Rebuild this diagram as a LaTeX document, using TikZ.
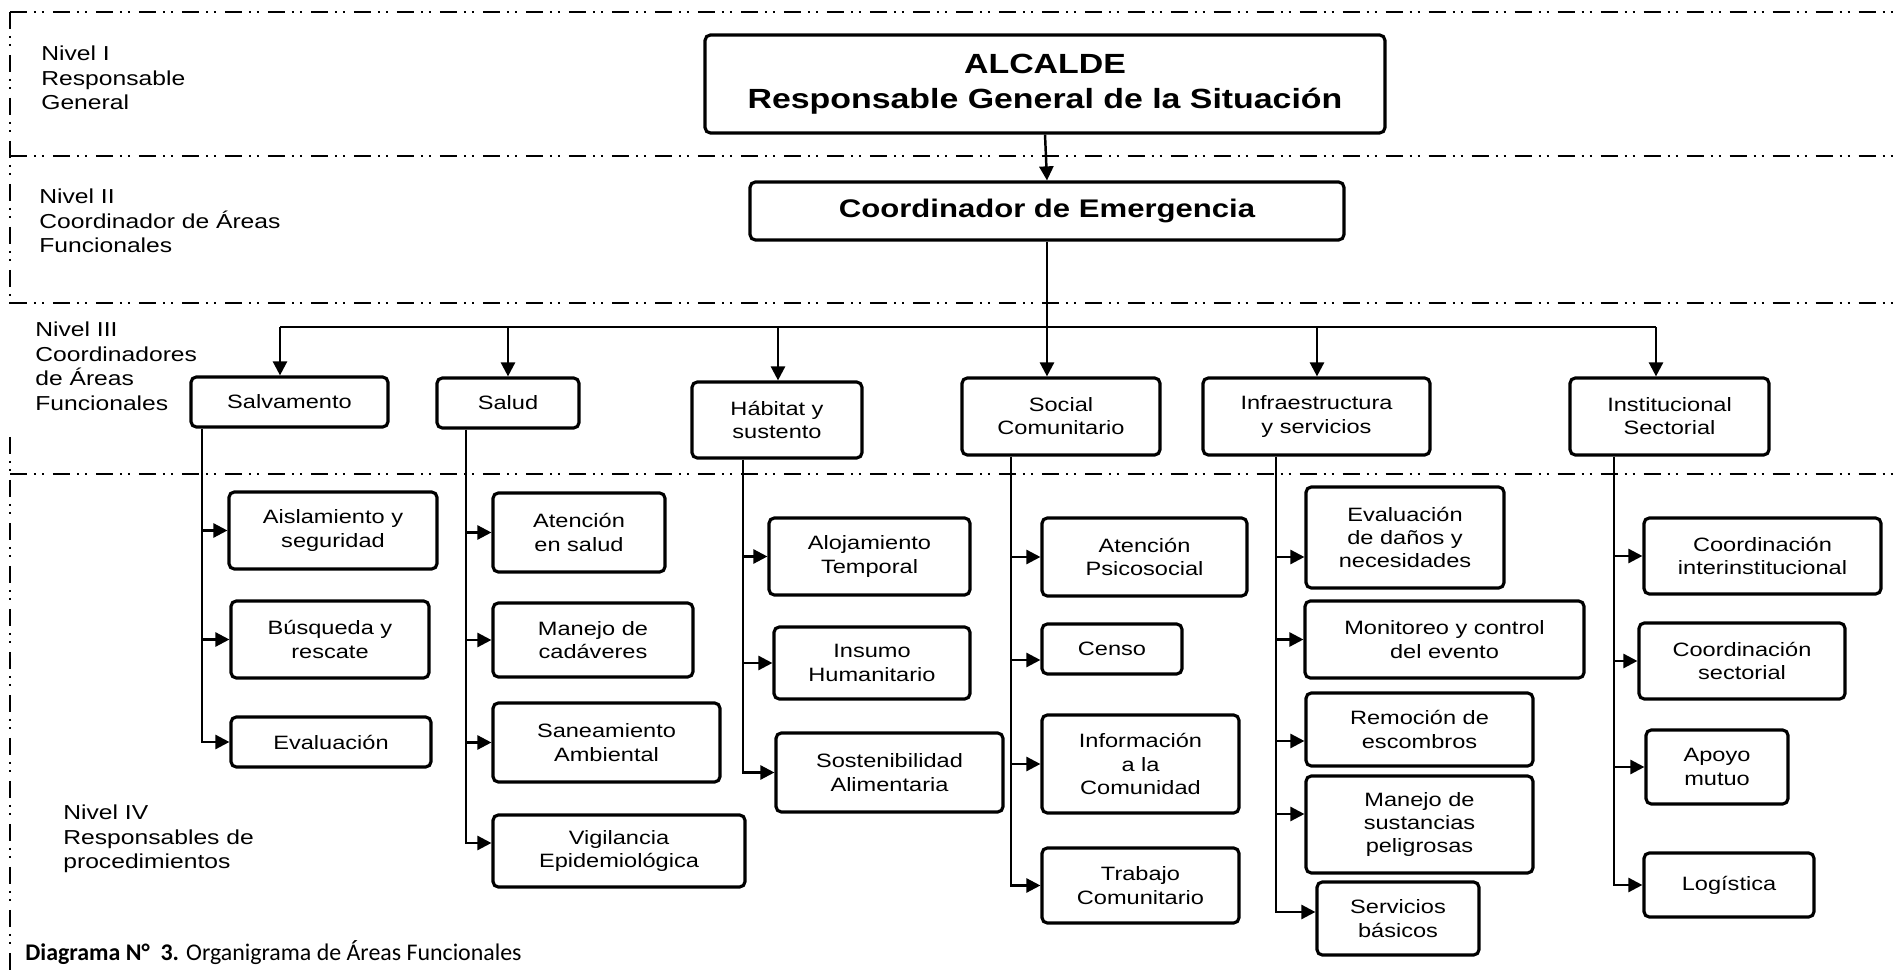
\documentclass[tikz,border=0pt]{standalone}
\usepackage{fontspec}
\setmainfont{Liberation Sans}[FakeStretch=1.22]
\newfontfamily\capfont{Carlito}
\usepackage{tikz}
\usetikzlibrary{arrows.meta,positioning}
\tikzstyle{arrow} = [line width=1.4pt,-{Triangle[length=8pt,width=8pt]}]
\tikzstyle{link} = [line width=1.4pt]

\begin{document}
\begin{tikzpicture}[x=0.02cm, y=-0.02cm,
    every node/.style={inner sep=1pt}]

    \tikzstyle{areabox}=[draw, rounded corners=3pt, line width=1.8pt, align=center, font=\fontsize{11}{13.2}\selectfont]
    \tikzstyle{bigbox}=[areabox, font=\bfseries\fontsize{15.8}{19.8}\selectfont]
    \tikzstyle{levellabel}=[anchor=north west, inner sep=0pt, align=left, font=\fontsize{11.5}{13.9}\selectfont]
    \tikzstyle{levelline}=[line width=1.2pt, dash pattern=on 0.34cm off 0.14cm on 0.04cm off 0.12cm on 0.04cm off 0.18cm]

    \fill[white] (0,0) rectangle (1894,972);
    \useasboundingbox (0,0) rectangle (1894,972);

    % level separators
    \draw[levelline] (10,12) -- (1894,12);
    \draw[levelline] (10,156) -- (1894,156);
    \draw[levelline] (10,303) -- (1894,303);
    \draw[levelline] (10,474) -- (1894,474);
    \draw[levelline] (10,12) -- (10,305);
    \draw[levelline] (10,437) -- (10,972);

    \node[levellabel] (n1) at (41,46) {Nivel I\\Responsable\\General};
    \node[levellabel] (n2) at (39,189) {Nivel II\\Coordinador de Áreas\\Funcionales};
    \node[levellabel] (n3) at (35,322) {Nivel III\\Coordinadores\\de Áreas\\Funcionales};
    \node[levellabel] (n4) at (63,805) {Nivel IV\\Responsables de\\procedimientos};

    % levels I and II
    \node[bigbox, minimum width=13.6cm, minimum height=1.96cm] (alc) at (1045,84) {ALCALDE\\Responsable General de la Situación};
    \node[bigbox, minimum width=11.88cm, minimum height=1.16cm, font=\bfseries\fontsize{14.5}{17}\selectfont] (coord) at (1047,211) {Coordinador de Emergencia};

    % level III
    \node[areabox, minimum width=3.94cm, minimum height=1.0cm] (salv) at (289.5,402) {Salvamento};
    \node[areabox, minimum width=2.84cm, minimum height=1.0cm] (salud) at (508,403) {Salud};
    \node[areabox, minimum width=3.4cm, minimum height=1.52cm] (habi) at (777,420) {Hábitat y\\sustento};
    \node[areabox, minimum width=3.96cm, minimum height=1.54cm] (soci) at (1061,416.5) {Social\\Comunitario};
    \node[areabox, minimum width=4.54cm, minimum height=1.54cm] (infra) at (1316.5,416.5) {Infraestructura\\y servicios};
    \node[areabox, minimum width=3.98cm, minimum height=1.54cm] (inst) at (1669.5,416.5) {Institucional\\Sectorial};

    % level IV
    \node[areabox, minimum width=4.16cm, minimum height=1.54cm] (aisl) at (333,530.5) {Aislamiento y\\seguridad};
    \node[areabox, minimum width=3.96cm, minimum height=1.54cm] (busq) at (330,639.5) {Búsqueda y\\rescate};
    \node[areabox, minimum width=4.0cm, minimum height=1.0cm] (evalu) at (331,742) {Evaluación};

    \node[areabox, minimum width=3.44cm, minimum height=1.58cm] (aten) at (579,532.5) {Atención\\en salud};
    \node[areabox, minimum width=4.0cm, minimum height=1.48cm] (cada) at (593,640) {Manejo de\\cadáveres};
    \node[areabox, minimum width=4.54cm, minimum height=1.58cm] (sane) at (606.5,742.5) {Saneamiento\\Ambiental};
    \node[areabox, minimum width=5.04cm, minimum height=1.44cm] (vigi) at (619,851) {Vigilancia\\Epidemiológica};

    \node[areabox, minimum width=4.02cm, minimum height=1.54cm] (aloj) at (869.5,556.5) {Alojamiento\\Temporal};
    \node[areabox, minimum width=3.92cm, minimum height=1.44cm] (insu) at (872,663) {Insumo\\Humanitario};
    \node[areabox, minimum width=4.54cm, minimum height=1.58cm] (sost) at (889.5,772.5) {Sostenibilidad\\Alimentaria};

    \node[areabox, minimum width=4.1cm, minimum height=1.56cm] (psic) at (1144.5,557) {Atención\\Psicosocial};
    \node[areabox, minimum width=2.8cm, minimum height=1.0cm] (censo) at (1112,649) {Censo};
    \node[areabox, minimum width=3.94cm, minimum height=1.96cm] (info) at (1140.5,764) {Información\\a la\\Comunidad};
    \node[areabox, minimum width=3.94cm, minimum height=1.5cm] (trab) at (1140.5,885.5) {Trabajo\\Comunitario};

    \node[areabox, minimum width=3.96cm, minimum height=2.02cm] (edan) at (1405,537.5) {Evaluación\\de daños y\\necesidades};
    \node[areabox, minimum width=5.58cm, minimum height=1.54cm] (mono) at (1444.5,639.5) {Monitoreo y control\\del evento};
    \node[areabox, minimum width=4.54cm, minimum height=1.46cm] (remo) at (1419.5,729.5) {Remoción de\\escombros};
    \node[areabox, minimum width=4.54cm, minimum height=1.94cm] (mane) at (1419.5,824.5) {Manejo de\\sustancias\\peligrosas};
    \node[areabox, minimum width=3.24cm, minimum height=1.46cm] (serv) at (1398,918.5) {Servicios\\básicos};

    \node[areabox, minimum width=4.74cm, minimum height=1.52cm] (cint) at (1762.5,556) {Coordinación\\interinstitucional};
    \node[areabox, minimum width=4.12cm, minimum height=1.52cm] (csec) at (1742,661) {Coordinación\\sectorial};
    \node[areabox, minimum width=2.84cm, minimum height=1.48cm] (apoy) at (1717,767) {Apoyo\\mutuo};
    \node[areabox, minimum width=3.4cm, minimum height=1.28cm] (logi) at (1729,885) {Logística};

    % bus and drop points
    \coordinate (b1) at (280,327);
    \coordinate (b2) at (508,327);
    \coordinate (b3) at (778,327);
    \coordinate (b5) at (1317,327);
    \coordinate (b6) at (1656,327);
    % trunk columns
    \coordinate (t1) at (202,0);
    \coordinate (t2) at (466,0);
    \coordinate (t3) at (743,0);
    \coordinate (t4) at (1011,0);
    \coordinate (t5) at (1276,0);
    \coordinate (t6) at (1614,0);
    % arrow entries off the box middle
    \coordinate (vigiIn) at ([yshift=0.16cm]vigi.west);
    \coordinate (censoIn) at ([yshift=-0.22cm]censo.west);
    \coordinate (edanIn) at ([yshift=-0.39cm]edan.west);
    \coordinate (remoIn) at ([yshift=-0.23cm]remo.west);
    \coordinate (maneIn) at ([yshift=0.21cm]mane.west);
    \coordinate (servIn) at ([yshift=0.13cm]serv.west);

    \draw[arrow] (alc.south) -- (coord.north);
    \draw[arrow] (coord.south) -- (coord.south |- soci.north);
    \draw[link] (b1) -- (b6);
    \foreach \c/\n in {b1/salv, b2/salud, b3/habi, b5/infra, b6/inst}
        \draw[arrow] (\c) -- (\c |- \n.north);

    \draw[arrow] (t1 |- salv.south) |- (evalu.west);
    \foreach \n in {aisl, busq}
        \draw[arrow] (t1 |- \n.west) -- (\n.west);

    \draw[arrow] (t2 |- salud.south) |- (vigiIn);
    \foreach \n in {aten, cada, sane}
        \draw[arrow] (t2 |- \n.west) -- (\n.west);

    \draw[arrow] (t3 |- habi.south) |- (sost.west);
    \foreach \n in {aloj, insu}
        \draw[arrow] (t3 |- \n.west) -- (\n.west);

    \draw[arrow] (t4 |- soci.south) |- (trab.west);
    \foreach \n in {psic, info}
        \draw[arrow] (t4 |- \n.west) -- (\n.west);
    \draw[arrow] (t4 |- censoIn) -- (censoIn);

    \draw[arrow] (t5 |- infra.south) |- (servIn);
    \draw[arrow] (t5 |- mono.west) -- (mono.west);
    \foreach \n in {edanIn, remoIn, maneIn}
        \draw[arrow] (t5 |- \n) -- (\n);

    \draw[arrow] (t6 |- inst.south) |- (logi.west);
    \foreach \n in {cint, csec, apoy}
        \draw[arrow] (t6 |- \n.west) -- (\n.west);

    \node[anchor=base west, inner sep=0pt, font=\capfont\fontsize{13.6}{16}\selectfont] (cap) at (25,960) {\textbf{Diagrama N°\ \ 3.} Organigrama de Áreas Funcionales};

\end{tikzpicture}
\end{document}
